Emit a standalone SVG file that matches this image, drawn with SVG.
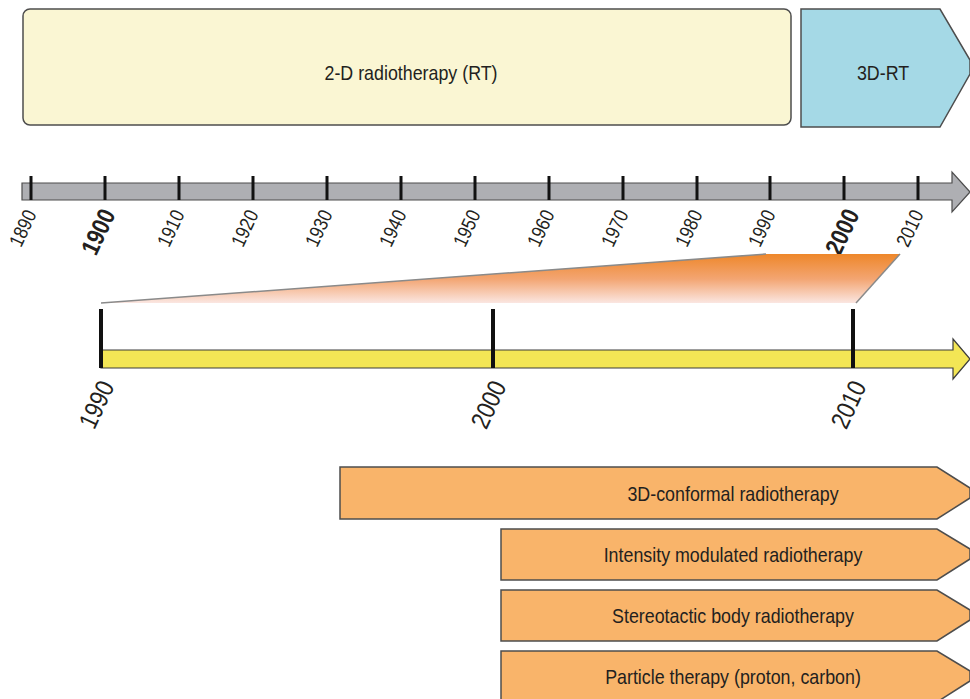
<svg xmlns="http://www.w3.org/2000/svg" width="970" height="699" viewBox="0 0 970 699">
<style>
.lbl{font-family:"Liberation Sans",Arial,sans-serif;font-size:21px;fill:#231f20;text-anchor:middle;dominant-baseline:central}
.yr{font-family:"Liberation Sans",Arial,sans-serif;font-size:20px;fill:#231f20;text-anchor:end}
.yrb{font-family:"Liberation Sans",Arial,sans-serif;font-size:25px;font-weight:bold;fill:#231f20;text-anchor:end}
.yr2{font-family:"Liberation Sans",Arial,sans-serif;font-size:26px;fill:#231f20;text-anchor:end}
.tick{stroke:#111;stroke-width:3}
.tick2{stroke:#111;stroke-width:4}
.bar{fill:#f9b46a;stroke:#4d4d4d;stroke-width:1.5}
</style>
<defs>
<linearGradient id="zg" gradientUnits="userSpaceOnUse" x1="0" y1="254" x2="0" y2="304">
<stop offset="0" stop-color="#ee872a"/>
<stop offset="0.5" stop-color="#f3a572"/>
<stop offset="1" stop-color="#fbe9e6"/>
</linearGradient>
</defs>
<rect width="970" height="699" fill="#ffffff"/>

<g id="era-2d">
<rect x="23" y="9" width="768" height="116" rx="7" fill="#faf6d3" stroke="#4d4d4d" stroke-width="1.5"/>
<text class="lbl" transform="translate(411,72) scale(0.85,1)">2-D radiotherapy (RT)</text>
</g>
<g id="era-3d">
<polygon points="801,9 940,9 970,60 970,74 940,127 801,127" fill="#a5d9e6" stroke="#4d4d4d" stroke-width="1.5"/>
<text class="lbl" transform="translate(883,72) scale(0.85,1)">3D-RT</text>
</g>

<g id="timeline-main">
<polygon points="22,183 952,183 952,172 970,192 952,212 952,200 22,200" fill="#aeafb3" stroke="#4d4d4d" stroke-width="1.2"/>
<g class="tick">
<line x1="31" y1="176" x2="31" y2="200"/>
<line x1="105" y1="176" x2="105" y2="200"/>
<line x1="179" y1="176" x2="179" y2="200"/>
<line x1="253" y1="176" x2="253" y2="200"/>
<line x1="327" y1="176" x2="327" y2="200"/>
<line x1="401" y1="176" x2="401" y2="200"/>
<line x1="475" y1="176" x2="475" y2="200"/>
<line x1="549" y1="176" x2="549" y2="200"/>
<line x1="623" y1="176" x2="623" y2="200"/>
<line x1="697" y1="176" x2="697" y2="200"/>
<line x1="770" y1="176" x2="770" y2="200"/>
<line x1="844" y1="176" x2="844" y2="200"/>
<line x1="918" y1="176" x2="918" y2="200"/>
</g>
<text class="yr" transform="translate(37,214) rotate(-65) scale(0.85,1)">1890</text>
<text class="yrb" transform="translate(116,214) rotate(-65) scale(0.85,1)">1900</text>
<text class="yr" transform="translate(185,214) rotate(-65) scale(0.85,1)">1910</text>
<text class="yr" transform="translate(259,214) rotate(-65) scale(0.85,1)">1920</text>
<text class="yr" transform="translate(333,214) rotate(-65) scale(0.85,1)">1930</text>
<text class="yr" transform="translate(407,214) rotate(-65) scale(0.85,1)">1940</text>
<text class="yr" transform="translate(481,214) rotate(-65) scale(0.85,1)">1950</text>
<text class="yr" transform="translate(555,214) rotate(-65) scale(0.85,1)">1960</text>
<text class="yr" transform="translate(629,214) rotate(-65) scale(0.85,1)">1970</text>
<text class="yr" transform="translate(703,214) rotate(-65) scale(0.85,1)">1980</text>
<text class="yr" transform="translate(776,214) rotate(-65) scale(0.85,1)">1990</text>
<text class="yrb" transform="translate(860,214) rotate(-65) scale(0.85,1)">2000</text>
<text class="yr" transform="translate(924,214) rotate(-65) scale(0.85,1)">2010</text>
</g>

<g id="connectors">
<polygon points="101,303 766,254 900,254 856,303" fill="url(#zg)"/>
<line x1="101" y1="303" x2="766" y2="254" stroke="#8a8a8a" stroke-width="1.5"/>
<line x1="900" y1="254" x2="856" y2="303" stroke="#8a8a8a" stroke-width="1.5"/>
</g>

<g id="timeline-zoom">
<polygon points="101,350 953,350 953,339 970,359 953,379 953,368 101,368" fill="#f3e655" stroke="#3d3d3d" stroke-width="1.2"/>
<g class="tick2">
<line x1="101" y1="309" x2="101" y2="368"/>
<line x1="493" y1="309" x2="493" y2="368"/>
<line x1="853" y1="309" x2="853" y2="368"/>
</g>
<text class="yr2" transform="translate(115,386) rotate(-65) scale(0.85,1)">1990</text>
<text class="yr2" transform="translate(507,386) rotate(-65) scale(0.85,1)">2000</text>
<text class="yr2" transform="translate(867,386) rotate(-65) scale(0.85,1)">2010</text>
</g>

<g id="bar-3dcrt">
<polygon class="bar" points="340,467 937,467 970,488 970,498 937,519 340,519"/>
<text class="lbl" transform="translate(733,493) scale(0.85,1)">3D-conformal radiotherapy</text>
</g>
<g id="bar-imrt">
<polygon class="bar" points="501,529 937,529 970,549 970,559 937,580 501,580"/>
<text class="lbl" transform="translate(733,554) scale(0.85,1)">Intensity modulated radiotherapy</text>
</g>
<g id="bar-sbrt">
<polygon class="bar" points="501,590 937,590 970,610 970,620 937,641 501,641"/>
<text class="lbl" transform="translate(733,615) scale(0.85,1)">Stereotactic body radiotherapy</text>
</g>
<g id="bar-particle">
<polygon class="bar" points="501,651 937,651 970,671 970,681 937,702 501,702"/>
<text class="lbl" transform="translate(733,676) scale(0.85,1)">Particle therapy (proton, carbon)</text>
</g>
</svg>
